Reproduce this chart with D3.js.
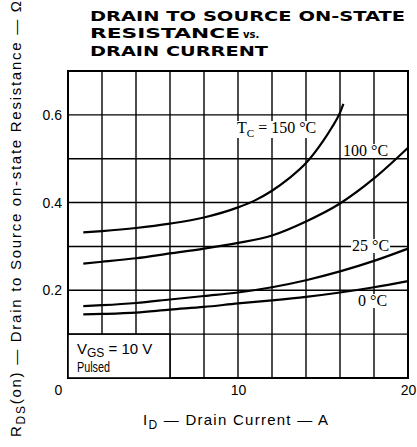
<!DOCTYPE html>
<html>
<head>
<meta charset="utf-8">
<script src="https://cdn.jsdelivr.net/npm/d3@7"></script>
<style>
  body { margin: 0; background: #fff; }
  svg { display: block; }
  text { fill: #000; }
</style>
</head>
<body>
<div id="chart"></div>
<script>
// Drain to source on-state resistance vs drain current
const titleLines = ['DRAIN TO SOURCE ON-STATE', 'RESISTANCE', 'DRAIN CURRENT'];

const current150 = [0.9, 2, 4, 6, 8, 10, 11, 12, 13, 14, 15, 15.5, 16, 16.2];
const rds150 = [0.332, 0.335, 0.342, 0.352, 0.366, 0.389, 0.405, 0.427, 0.455, 0.49, 0.54, 0.57, 0.605, 0.625];

const current100 = [0.9, 2, 4, 6, 8, 10, 12, 14, 16, 18, 20];
const rds100 = [0.261, 0.265, 0.273, 0.284, 0.295, 0.308, 0.325, 0.357, 0.398, 0.455, 0.525];

const current25 = [0.9, 2, 4, 6, 8, 10, 12, 14, 16, 18, 20];
const rds25 = [0.164, 0.166, 0.171, 0.179, 0.187, 0.195, 0.207, 0.223, 0.243, 0.267, 0.295];

const current0 = [0.9, 2, 4, 6, 8, 10, 12, 14, 16, 18, 20];
const rds0 = [0.145, 0.146, 0.149, 0.156, 0.162, 0.170, 0.177, 0.185, 0.195, 0.207, 0.221];

const xTicks = [0, 10, 20];
const yTicks = [0.2, 0.4, 0.6];
const xGrid = d3.range(0, 21, 2);
const yGrid = d3.range(0, 0.71, 0.1);

const width = 417, height = 447;
const margin = { top: 71, right: 9, bottom: 69, left: 68 };

const svg = d3.select('#chart').append('svg')
    .attr('width', width)
    .attr('height', height);

const x = d3.scaleLinear().domain([0, 20]).range([margin.left, width - margin.right]);
const y = d3.scaleLinear().domain([0, 0.7]).range([height - margin.bottom, margin.top]);

// title
const titleY = [21, 38, 56];
const titleW = [315, 150, 178];
titleLines.forEach((t, i) => {
    svg.append('text')
        .attr('x', 90)
        .attr('y', titleY[i])
        .attr('textLength', titleW[i])
        .attr('lengthAdjust', 'spacingAndGlyphs')
        .style('font-family', 'DejaVu Sans')
        .style('font-weight', 'bold')
        .style('font-size', '14px')
        .text(t);
});
svg.append('text')
    .attr('x', 243)
    .attr('y', 38)
    .style('font-family', 'DejaVu Sans')
    .style('font-weight', 'bold')
    .style('font-size', '10px')
    .text('vs.');

// grid
const grid = svg.append('g');
grid.selectAll('.vg').data(xGrid).enter().append('line')
    .attr('x1', d => x(d)).attr('x2', d => x(d))
    .attr('y1', y(0)).attr('y2', y(0.7))
    .attr('stroke', '#000').attr('stroke-width', 1.4);
grid.selectAll('.hg').data(yGrid).enter().append('line')
    .attr('x1', x(0)).attr('x2', x(20))
    .attr('y1', d => y(d)).attr('y2', d => y(d))
    .attr('stroke', '#000').attr('stroke-width', 1.4);
svg.append('rect')
    .attr('x', x(0)).attr('y', y(0.7))
    .attr('width', x(20) - x(0)).attr('height', y(0) - y(0.7))
    .attr('fill', 'none').attr('stroke', '#000').attr('stroke-width', 2);

// curves
const series = [
    { i: current150, r: rds150 },
    { i: current100, r: rds100 },
    { i: current25, r: rds25 },
    { i: current0, r: rds0 }
];
const line = d3.line()
    .x(d => x(d[0]))
    .y(d => y(d[1]))
    .curve(d3.curveMonotoneX);

svg.selectAll('.curve').data(series).enter().append('path')
    .attr('class', 'curve')
    .attr('d', s => line(d3.zip(s.i, s.r)))
    .attr('fill', 'none')
    .attr('stroke', '#000')
    .attr('stroke-width', 2.2);

// curve labels
function label(xp, yp, parts) {
    const g = svg.append('g');
    const t = g.append('text')
        .attr('x', xp).attr('y', yp)
        .style('font-family', 'Liberation Serif')
        .style('font-size', '16px');
    parts.forEach(p => {
        const ts = t.append('tspan').text(p.t);
        if (p.sub) ts.attr('dy', 4).style('font-size', '11px');
        if (p.up) ts.attr('dy', -4);
    });
    const bb = t.node().getBBox();
    g.insert('rect', 'text')
        .attr('x', bb.x - 1).attr('y', bb.y + 2)
        .attr('width', bb.width + 2).attr('height', bb.height - 3)
        .attr('fill', '#fff');
}
label(237, 133, [{ t: 'T' }, { t: 'C', sub: true }, { t: ' = 150 °C', up: true }]);
label(343, 156, [{ t: '100 °C' }]);
label(352, 251, [{ t: '25 °C' }]);
label(358, 306, [{ t: '0 °C' }]);

// conditions box
svg.append('rect')
    .attr('x', x(0)).attr('y', y(0.1))
    .attr('width', x(6) - x(0)).attr('height', y(0) - y(0.1))
    .attr('fill', '#fff').attr('stroke', '#000').attr('stroke-width', 1.6);
const vgs = svg.append('text')
    .attr('x', 77).attr('y', 354)
    .style('font-family', 'Liberation Sans')
    .style('font-size', '15px');
vgs.append('tspan').text('V');
vgs.append('tspan').attr('dy', 3).style('font-size', '12px').text('GS');
vgs.append('tspan').attr('dy', -3).text(' = 10 V');
svg.append('text')
    .attr('x', 77).attr('y', 372)
    .attr('textLength', 33)
    .attr('lengthAdjust', 'spacingAndGlyphs')
    .style('font-family', 'Liberation Sans')
    .style('font-size', '14px')
    .text('Pulsed');

// axes
const yAxis = svg.append('g')
    .attr('transform', `translate(${x(0)},0)`)
    .call(d3.axisLeft(y).tickValues(yTicks).tickSize(0).tickPadding(6).tickFormat(d3.format('.1f')));
yAxis.select('.domain').remove();
yAxis.selectAll('text')
    .style('font-family', 'Liberation Sans')
    .style('font-size', '14px')
    .style('fill', '#000');

const xAxis = svg.append('g')
    .attr('transform', `translate(0,${y(0)})`)
    .call(d3.axisBottom(x).tickValues(xTicks).tickSize(0).tickPadding(7).tickFormat(d3.format('d')));
xAxis.select('.domain').remove();
xAxis.selectAll('text')
    .attr('dx', d => d === 0 ? -10 : 0)
    .style('font-family', 'Liberation Sans')
    .style('font-size', '14px')
    .style('fill', '#000');

// axis titles
const xt = svg.append('text')
    .attr('x', 143).attr('y', 425)
    .attr('textLength', 185)
    .style('font-family', 'Liberation Sans')
    .style('font-size', '15px');
xt.append('tspan').text('I');
xt.append('tspan').attr('dy', 4).style('font-size', '12px').text('D');
xt.append('tspan').attr('dy', -4).text(' — Drain Current — A');

const yt = svg.append('text')
    .attr('transform', 'translate(21,437) rotate(-90)')
    .attr('textLength', 436)
    .style('font-family', 'Liberation Sans')
    .style('font-size', '15px');
yt.append('tspan').text('R');
yt.append('tspan').attr('dy', 4).style('font-size', '12px').text('DS');
yt.append('tspan').attr('dy', -4).text('(on) — Drain to Source on-state Resistance — Ω');
</script>
</body>
</html>
